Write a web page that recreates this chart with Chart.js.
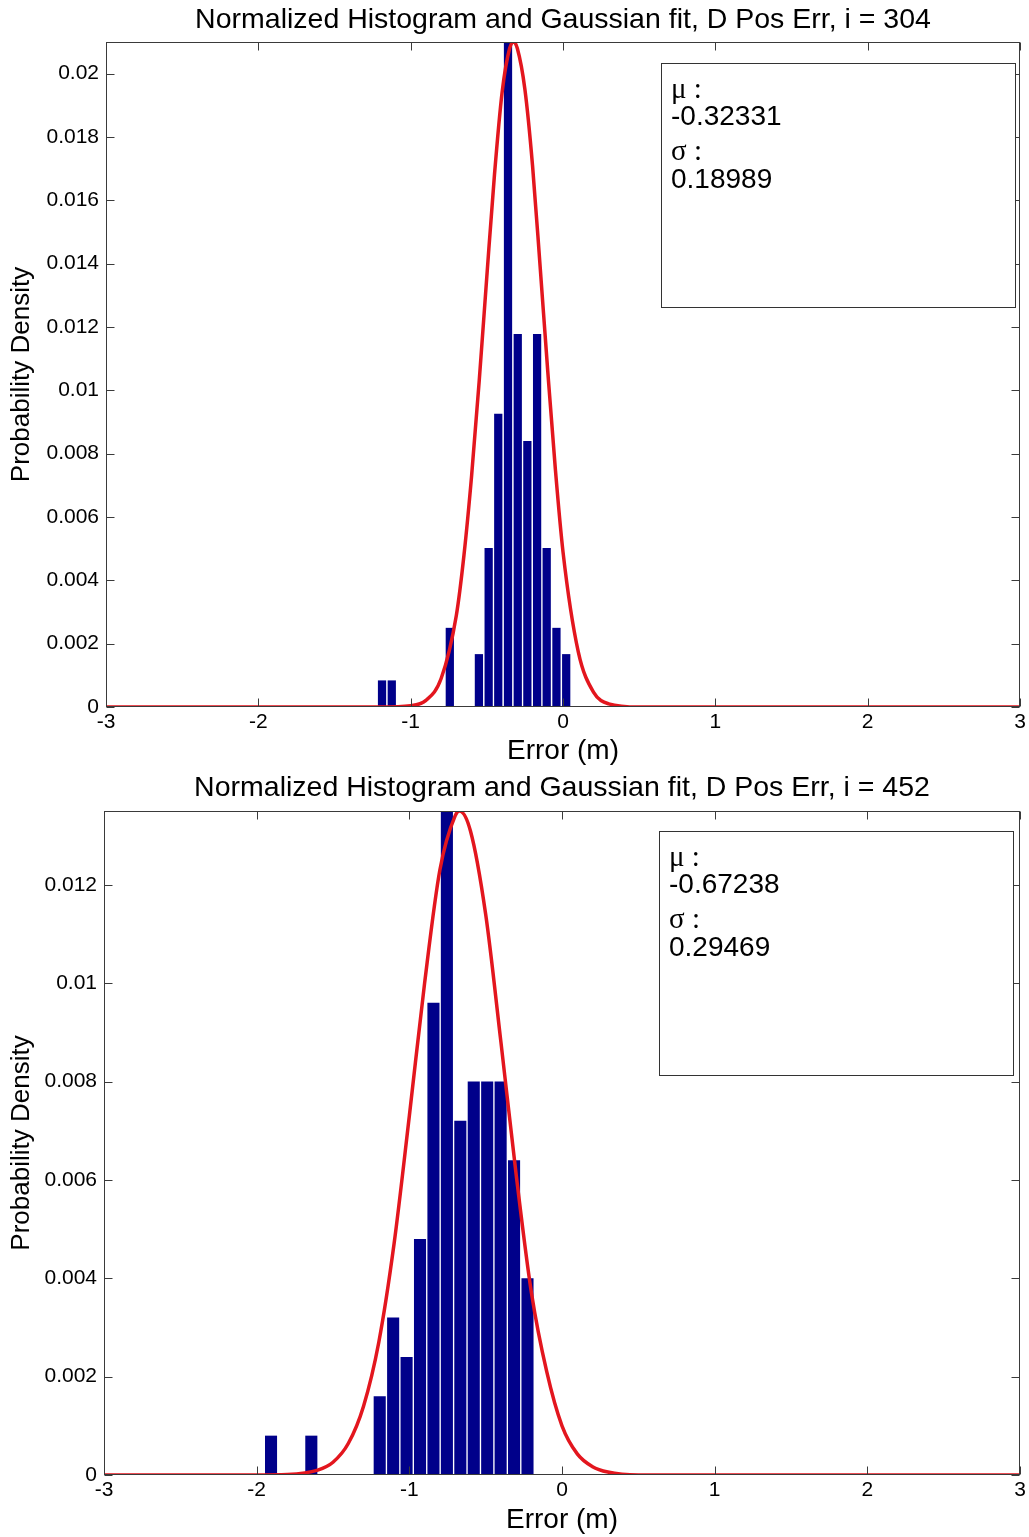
<!DOCTYPE html>
<html>
<head>
<meta charset="utf-8">
<script src="https://cdn.jsdelivr.net/npm/chart.js@4.4.0/dist/chart.umd.min.js"></script>
<style>
body { margin: 0; background: #fff; }
canvas { display: block; }
</style>
</head>
<body>
<canvas id="chart1" width="1029" height="768"></canvas>
<canvas id="chart2" width="1029" height="769"></canvas>
<script>
// upper plot, i = 304
const binsTop = [-1.188, -1.124, -0.743, -0.552, -0.488, -0.425, -0.361, -0.297, -0.234, -0.170, -0.107, -0.043, 0.021];
const densTop = [0.00084, 0.00084, 0.0025, 0.00167, 0.00502, 0.00926, 0.021, 0.01178, 0.0084, 0.01178, 0.00502, 0.0025, 0.00167];
const fitXTop = [-3, -1.2, -1.0, -0.9, -0.8, -0.7, -0.65, -0.6, -0.55, -0.5, -0.45, -0.4, -0.35, -0.323, -0.3, -0.25, -0.2, -0.15, -0.1, -0.05, 0, 0.1, 0.2, 0.3, 0.5, 3];
const fitYTop = [0, 0, 0.00004, 0.00021, 0.0009, 0.0029, 0.0048, 0.0073, 0.0103, 0.0136, 0.0168, 0.0194, 0.0208, 0.021, 0.0208, 0.0195, 0.0171, 0.0139, 0.0106, 0.0075, 0.0049, 0.00175, 0.00047, 0.0001, 0, 0];
const muTop = '-0.32331';
const sigmaTop = '0.18989';
const yTicksTop = [0, 0.002, 0.004, 0.006, 0.008, 0.01, 0.012, 0.014, 0.016, 0.018, 0.02];

// lower plot, i = 452
const binsBottom = [-1.906, -1.642, -1.194, -1.106, -1.018, -0.930, -0.842, -0.754, -0.666, -0.578, -0.490, -0.402, -0.314, -0.226];
const densBottom = [0.0008, 0.0008, 0.0016, 0.0032, 0.0024, 0.0048, 0.0096, 0.0135, 0.0072, 0.008, 0.008, 0.008, 0.0064, 0.004];
const fitXBottom = [-3, -2.0, -1.8, -1.6, -1.5, -1.4, -1.3, -1.2, -1.1, -1.0, -0.9, -0.8, -0.7, -0.672, -0.6, -0.5, -0.4, -0.3, -0.2, -0.1, 0, 0.1, 0.2, 0.3, 0.5, 3];
const fitYBottom = [0, 0, 0.00001, 0.0001, 0.00026, 0.00064, 0.0014, 0.0027, 0.0047, 0.0073, 0.0100, 0.0123, 0.0134, 0.0135, 0.0131, 0.0114, 0.0088, 0.0061, 0.0037, 0.0021, 0.001, 0.00043, 0.00017, 0.00006, 0, 0];
const muBottom = '-0.67238';
const sigmaBottom = '0.29469';
const yTicksBottom = [0, 0.002, 0.004, 0.006, 0.008, 0.01, 0.012];

const xTicks = [-3, -2, -1, 0, 1, 2, 3];

Chart.defaults.font.family = '"Liberation Sans", Arial, sans-serif';
Chart.defaults.color = '#000';

function pts(xs, ys) {
    return xs.map((x, i) => ({ x: x, y: ys[i] }));
}

// box round the axes and the inward ticks on all four sides
const frame = {
    id: 'frame',
    afterDatasetsDraw(chart) {
        const c = chart.ctx;
        const a = chart.chartArea;
        const sx = chart.scales.x;
        const sy = chart.scales.y;
        const l = Math.round(a.left) + 0.5, r = Math.round(a.right) - 0.5;
        const t = Math.round(a.top) + 0.5, b = Math.round(a.bottom) - 0.5;
        c.save();
        c.strokeStyle = '#3a3a3a';
        c.lineWidth = 1;
        c.strokeRect(l, t, r - l, b - t);
        c.beginPath();
        sx.ticks.forEach(tk => {
            const x = Math.round(sx.getPixelForValue(tk.value)) + 0.5;
            c.moveTo(x, b); c.lineTo(x, b - 8);
            c.moveTo(x, t); c.lineTo(x, t + 8);
        });
        sy.ticks.forEach(tk => {
            const y = Math.round(sy.getPixelForValue(tk.value)) + 0.5;
            c.moveTo(l, y); c.lineTo(l + 8, y);
            c.moveTo(r, y); c.lineTo(r - 8, y);
        });
        c.stroke();
        c.restore();
    }
};

// the mu / sigma text box
const statBox = {
    id: 'statBox',
    afterDraw(chart, args, opts) {
        const c = chart.ctx;
        const a = chart.chartArea;
        const x0 = Math.round(a.right) - opts.inset - 354;
        const y0 = Math.round(a.top) + opts.down;
        c.save();
        c.fillStyle = '#fff';
        c.fillRect(x0, y0, 354, 244);
        c.strokeStyle = '#333';
        c.lineWidth = 1;
        c.strokeRect(x0 + 0.5, y0 + 0.5, 354, 244);
        c.fillStyle = '#000';
        c.textBaseline = 'middle';
        const offs = [27, 54, 89, 117];
        opts.lines.forEach((txt, i) => {
            c.font = (i % 2 === 0) ? '29px "Liberation Serif", serif' : '28px "Liberation Sans", Arial, sans-serif';
            c.fillText(txt, x0 + 10, y0 + offs[i]);
        });
        c.restore();
    }
};

function makeChart(id, bins, dens, fitX, fitY, yMax, yTicks, axisLeft, titleText, boxLines, boxInset, boxDown, barPct, titleBottom) {
    const canvas = document.getElementById(id);
    return new Chart(canvas, {
        type: 'bar',
        data: {
            datasets: [{
                type: 'line',
                data: pts(fitX, fitY),
                borderColor: '#e3161e',
                borderWidth: 3.5,
                pointRadius: 0,
                cubicInterpolationMode: 'monotone',
                fill: false,
                clip: 0,
                order: 0
            },
            {
                type: 'bar',
                data: pts(bins, dens),
                backgroundColor: '#00008a',
                borderWidth: 0,
                barPercentage: barPct,
                categoryPercentage: 1,
                order: 1
            }]
        },
        options: {
            responsive: false,
            animation: false,
            devicePixelRatio: 1,
            layout: { padding: { left: 6, right: 9, top: 0, bottom: 0 } },
            plugins: {
                legend: { display: false },
                tooltip: { enabled: false },
                title: {
                    display: true,
                    text: titleText,
                    fullSize: false,
                    font: { size: 28.5, weight: 'normal' },
                    color: '#000',
                    padding: { top: 2.9, bottom: titleBottom }
                },
                statBox: { lines: boxLines, inset: boxInset, down: boxDown }
            },
            scales: {
                x: {
                    type: 'linear',
                    min: -3,
                    max: 3,
                    offset: false,
                    grid: { display: false, drawTicks: false, offset: false },
                    border: { display: false },
                    afterBuildTicks: s => { s.ticks = xTicks.map(v => ({ value: v })); },
                    afterFit: s => { s.height = canvas.height - 707; },
                    ticks: {
                        padding: 3,
                        font: { size: 21 },
                        maxRotation: 0,
                        callback: v => String(v)
                    },
                    title: {
                        display: true,
                        text: 'Error (m)',
                        font: { size: 28 },
                        padding: { top: 0, bottom: 0 }
                    }
                },
                y: {
                    min: 0,
                    max: yMax,
                    grid: { display: false, drawTicks: false },
                    border: { display: false },
                    afterBuildTicks: s => { s.ticks = yTicks.map(v => ({ value: v })); },
                    afterFit: s => { s.width = axisLeft - 6; },
                    ticks: {
                        padding: 7,
                        font: { size: 21 },
                        callback: v => String(Number(v.toFixed(4)))
                    },
                    title: {
                        display: true,
                        text: 'Probability Density',
                        font: { size: 26 },
                        padding: { top: 0, bottom: 0 }
                    }
                }
            }
        },
        plugins: [frame, statBox]
    });
}

makeChart('chart1', binsTop, densTop, fitXTop, fitYTop, 0.021, yTicksTop, 106,
    'Normalized Histogram and Gaussian fit, D Pos Err, i = 304',
    ['\u03bc :', muTop, '\u03c3 :', sigmaTop], 5, 21, 0.86, 4.9);

makeChart('chart2', binsBottom, densBottom, fitXBottom, fitYBottom, 0.0135, yTicksBottom, 104,
    'Normalized Histogram and Gaussian fit, D Pos Err, i = 452',
    ['\u03bc :', muBottom, '\u03c3 :', sigmaBottom], 7, 20, 0.9, 5.9);
</script>
</body>
</html>
